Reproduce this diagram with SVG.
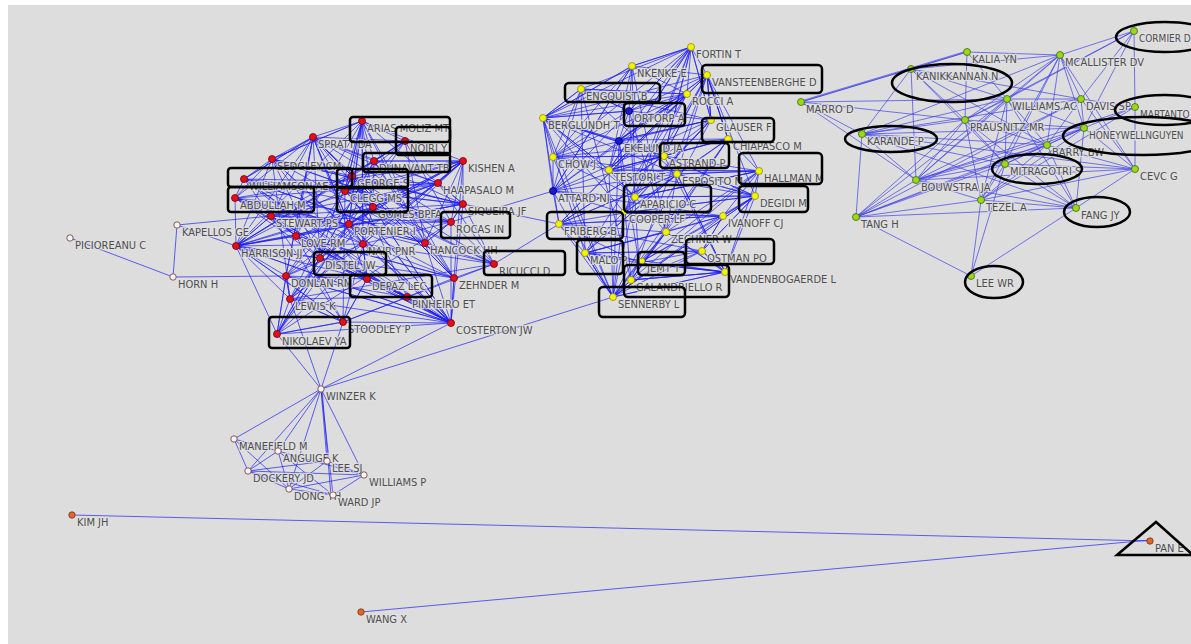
<svg xmlns="http://www.w3.org/2000/svg" width="1191" height="644" viewBox="0 0 1191 644">
<style>
.e{fill:none;stroke:#1c1cf4;stroke-width:1;stroke-opacity:.68}
.er{fill:none;stroke:#4040ea;stroke-width:1;stroke-opacity:.7}
.lbl{font-family:"DejaVu Sans Condensed","Liberation Sans",sans-serif;font-size:11px;fill:#4d4d4d;paint-order:stroke;stroke:#e2e2e2;stroke-width:2.5px;stroke-linejoin:round;stroke-opacity:.8}
.sm{font-size:10px}
.red{fill:#e0101a;stroke:#7a0000;stroke-width:.8}
.yel{fill:#f4f400;stroke:#8a8a00;stroke-width:.8}
.grn{fill:#9ad81a;stroke:#3f6a00;stroke-width:.8}
.blu{fill:#1a1acc;stroke:#000066;stroke-width:.8}
.open{fill:#f4f4f4;stroke:#7a4a4a;stroke-width:.9}
.org{fill:#e0662a;stroke:#7a3010;stroke-width:.8}
.mark{fill:none;stroke:#000;stroke-width:2.5}
</style>
<rect width="1191" height="644" fill="#ffffff"/>
<rect x="8" y="5" width="1183" height="639" fill="#dddddd"/>

<g id="connectors">
  <!-- left cluster -->
  <path class="e" d="M362 121L345 190L405 141L352 176L313 137L373 207L374 161L349 224L463 161L363 244L272 159L425 243L244 179L367 279L235 198L451 222L271 216L438 183L236 246L463 204L296 236L454 278L320 258L451 323L286 276L407 297L290 299L343 322L277 334"/>
  <path class="e" d="M362 121L272 159L235 198L236 246L286 276L277 334L290 299L320 258L296 236L271 216L244 179L313 137L352 176L345 190L373 207L349 224L363 244L367 279L343 322L407 297L454 278L425 243L451 222L463 204L438 183L463 161L374 161L405 141"/>
  <path class="e" d="M362 121L236 246L405 141L286 276L313 137L454 278L374 161L277 334L463 161L290 299L272 159L451 323L244 179L407 297L352 176L494 264L235 198L425 243L345 190L343 322L373 207L320 258L438 183L296 236L463 204L271 216L349 224L451 222L363 244L367 279"/>
  <path class="e" d="M463 161L235 198L438 183L244 179L463 204L272 159L451 222L313 137L425 243L362 121L454 278L352 176L451 323L345 190L494 264L373 207L277 334L349 224L290 299L363 244L286 276L367 279L320 258L407 297L296 236L343 322L236 246L271 216L374 161L405 141"/>
  <path class="e" d="M405 141L277 334L374 161L236 246L352 176L290 299L373 207L286 276L345 190L451 323L349 224L454 278L363 244L235 198L425 243L244 179L451 222L272 159L463 204L313 137L438 183L362 121L463 161L271 216L296 236L407 297L320 258L367 279L343 322L494 264"/>
  <path class="e" d="M244 179L363 244L362 121L349 224L313 137L367 279L272 159L320 258L235 198L407 297L271 216L343 322L236 246L451 323L296 236L454 278L352 176L463 204L345 190L438 183L373 207L463 161L374 161L425 243L405 141L451 222L277 334L286 276L290 299L494 264"/>
  <path class="e" d="M313 137L374 161L438 183L463 204L451 222L425 243L454 278L451 323L407 297L367 279L363 244L349 224L373 207L345 190L352 176L272 159L244 179L235 198L271 216L296 236L236 246L320 258L286 276L290 299L343 322L277 334"/>
  <path class="e" d="M362 121L352 176M362 121L345 190M362 121L373 207M362 121L349 224M362 121L363 244M362 121L320 258M362 121L296 236M362 121L405 141M362 121L374 161M362 121L313 137M362 121L272 159M463 161L438 183M463 161L463 204M463 161L451 222M463 161L425 243M463 161L454 278M463 161L373 207M463 161L349 224M463 161L363 244M463 161L345 190M463 161L352 176M313 137L272 159M313 137L244 179M313 137L235 198M313 137L271 216M313 137L236 246M313 137L296 236M313 137L320 258M313 137L286 276M313 137L345 190M313 137L352 176M313 137L349 224M313 137L405 141"/>
  <path class="e" d="M451 323L236 246M451 323L286 276M451 323L290 299M451 323L320 258M451 323L296 236M451 323L363 244M451 323L367 279M451 323L407 297M451 323L277 334M451 323L343 322M451 323L425 243M451 323L454 278M451 323L451 222M451 323L463 204M451 323L373 207M451 323L349 224M451 323L271 216M236 246L272 159M236 246L271 216M236 246L296 236M236 246L320 258M236 246L290 299M236 246L277 334M236 246L363 244M236 246L349 224M236 246L367 279M236 246L373 207M236 246L345 190M494 264L463 204M494 264L451 222M494 264L425 243M494 264L454 278M494 264L363 244M494 264L438 183"/>
  <path class="e" d="M177 225L236 246M177 225L173 277M70 238L173 277M173 277L286 276M177 225L271 216M463 204L559 224M494 264L559 224M451 222L553 191"/>
  <!-- winzer group -->
  <path class="e" d="M321 389L277 334M321 389L290 299M321 389L343 322M321 389L451 323M321 389L613 297M321 389L234 439M321 389L278 451M321 389L248 471M321 389L327 461M321 389L364 475M321 389L289 489M321 389L333 495M322 389L331 496"/>
  <path class="e" d="M234 439L248 471M234 439L289 489M234 439L278 451M248 471L278 451M248 471L327 461M248 471L364 475M248 471L333 495M248 471L289 489M289 489L364 475M289 489L327 461M289 489L333 495M278 451L333 495M278 451L289 489M278 451L364 475M327 461L364 475M333 495L364 475"/>
  <!-- middle cluster -->
  <path class="e" d="M543 118L691 47L553 157L632 66L553 191L707 75L559 224L687 94L585 253L711 120L613 297L728 139L631 280L759 171L639 263L755 196L702 251L723 216L666 232L677 174L624 213L635 197L609 170L664 156L619 140L629 111L581 89L543 118"/>
  <path class="e" d="M691 47L619 140L687 94L609 170L707 75L635 197L711 120L624 213L728 139L666 232L759 171L725 272L755 196L613 297L723 216L585 253L677 174L559 224L664 156L553 191L629 111L553 157L581 89L553 191L632 66L609 170L691 47"/>
  <path class="e" d="M581 89L687 94L553 157L664 156L559 224L677 174L585 253L666 232L631 280L702 251L613 297L725 272L639 263L723 216L624 213L755 196L635 197L759 171L609 170L728 139L619 140L711 120L629 111L707 75L632 66L691 47L629 111"/>
  <path class="e" d="M543 118L632 66L629 111L687 94L619 140L711 120L664 156L728 139L677 174L759 171L755 196L723 216L702 251L725 272L631 280L613 297L585 253L559 224L553 191L553 157L543 118L619 140L609 170L635 197L666 232L639 263L613 297"/>
  <path class="e" d="M691 47L664 156L707 75L619 140L687 94L553 191L711 120L553 157L728 139L609 170L759 171L635 197L755 196L624 213L723 216L559 224L666 232L585 253L702 251L639 263L725 272L631 280L707 75L543 118L677 174L581 89L585 253"/>
  <path class="e" d="M632 66L687 94L581 89L629 111L543 118L609 170L553 157L635 197L553 191L624 213L559 224L639 263L585 253L613 297L631 280L666 232L725 272L677 174L755 196L664 156L759 171L728 139L707 75L711 120L691 47L581 89"/>
  <path class="e" d="M543 118L664 156L553 157L677 174L553 191L723 216L559 224L702 251L585 253L725 272L613 297L755 196L609 170L687 94L624 213L691 47L635 197L632 66L666 232L629 111L639 263L619 140L631 280L581 89L711 120L707 75L728 139"/>
  <path class="e" d="M543 118L632 66M543 118L581 89M543 118L629 111M543 118L619 141M543 118L664 156M543 118L609 170M543 118L553 191M543 118L635 197M543 118L559 224M543 118L624 212M543 118L585 253M543 118L613 297M543 118L687 94M613 297L553 157M613 297L553 191M613 297L559 224M613 297L585 253M613 297L624 212M613 297L609 170M613 297L619 141M613 297L635 197M613 297L666 232M691 47L632 66M691 47L687 94M691 47L629 111M691 47L707 75M691 47L664 156M691 47L609 170M691 47L711 120"/>
  <path class="e" d="M707 75L711 120M707 75L728 139M707 75L677 174M707 75L664 156M707 75L759 171M707 75L755 196M759 171L677 174M759 171L723 216M755 196L677 174M755 196L723 216M755 196L664 156M755 196L702 251M759 171L635 197M725 272L666 232M725 272L702 251M725 272L639 263M725 272L677 174M725 272L664 156M725 272L631 280M725 272L585 253"/>
  <!-- right cluster -->
  <path class="er" d="M801 102L967 52M801 101L967 51M801 102L1007 99M801 102L911 69M801 102L965 120M801 102L916 180M801 102L862 134M967 52L1060 55M967 52L911 69M967 52L1007 99M967 52L965 120M1060 55L1134 31M1060 55L1007 99M1060 55L1081 99M1060 55L965 120M1060 55L911 69M1060 55L1047 145M1060 55L1005 164M1060 55L981 200M1060 55L1084 128M1060 55L862 134M1060 55L1135 169M1060 55L916 180M1134 31L1007 99M1134 31L1081 99M1134 31L1135 107M1134 31L1084 128M1134 31L965 120"/>
  <path class="er" d="M911 69L1007 99M911 69L965 120M911 69L916 180M911 69L1081 99M911 69L1005 164M911 69L1047 145M911 69L862 134M1007 99L1081 99M1007 99L965 120M1007 99L862 134M1007 99L916 180M1007 99L856 217M1007 99L1005 164M1007 99L1047 145M1007 99L1084 128M1007 99L981 200M1007 99L1076 208M1081 99L1135 107M1081 99L1084 128M1081 99L1047 145M1081 99L1135 169M1081 99L862 134M1081 99L916 180M1081 99L856 217M1135 107L1084 128M1135 107L916 180M1135 107L1135 169M1135 107L981 200"/>
  <path class="er" d="M965 120L862 134M965 120L916 180M965 120L981 200M965 120L1005 164M965 120L1047 145M965 120L1076 208M965 120L1084 128M965 120L856 217M1084 128L1047 145M1084 128L1135 169M1084 128L1005 164M1084 128L1076 208M1084 128L916 180M1084 128L856 217M1084 128L862 134M1084 128L981 200M862 134L916 180M862 134L856 217M862 134L1005 164M862 134L1047 145M862 134L1076 208M862 134L1135 169"/>
  <path class="er" d="M1047 145L1005 164M1047 145L1135 169M1047 145L1076 208M1047 145L916 180M1047 145L981 200M1047 145L856 217M1005 164L1135 169M1005 164L1076 208M1005 164L981 200M1005 164L916 180M1005 164L856 217M1135 169L1076 208M1135 169L916 180M1135 169L981 200M916 180L981 200M916 180L856 217M916 180L1076 208M981 200L856 217M981 200L1076 208M981 200L971 276M1005 164L971 276M1076 208L856 217M1076 208L971 276M856 217L971 276"/>
  <!-- isolated pairs -->
  <path class="e" d="M72 515L1150 541M361 612L1150 540"/>
</g>

<g id="nodes">
  <g id="n-arias"><circle class="red" cx="362" cy="121" r="3.5"/><text class="lbl" x="367" y="132">ARIAS MOLIZ MT</text></g>
  <g id="n-noiri"><circle class="red" cx="405" cy="141" r="3.5"/><text class="lbl" x="410" y="152">NOIRI Y</text></g>
  <g id="n-spratt"><circle class="red" cx="313" cy="137" r="3.5"/><text class="lbl" x="318" y="148">SPRATT DA</text></g>
  <g id="n-dunavant"><circle class="red" cx="374" cy="161" r="3.5"/><text class="lbl" x="379" y="172">DUNAVANT TB</text></g>
  <g id="n-kishen"><circle class="red" cx="463" cy="161" r="3.5"/><text class="lbl" x="468" y="172">KISHEN A</text></g>
  <g id="n-sedgley"><circle class="red" cx="272" cy="159" r="3.5"/><text class="lbl" x="277" y="170">SEDGLEY CM</text></g>
  <g id="n-williamson"><circle class="red" cx="244" cy="179" r="3.5"/><text class="lbl" x="249" y="190">WILLIAMSON AE</text></g>
  <g id="n-george"><circle class="red" cx="352" cy="176" r="3.5"/><text class="lbl" x="357" y="187">GEORGE S</text></g>
  <g id="n-abdullah"><circle class="red" cx="235" cy="198" r="3.5"/><text class="lbl" x="240" y="209">ABDULLAH M</text></g>
  <g id="n-clegg"><circle class="red" cx="345" cy="191" r="3.5"/><text class="lbl" x="350" y="202">CLEGG MS</text></g>
  <g id="n-gomes"><circle class="red" cx="373" cy="207" r="3.5"/><text class="lbl" x="378" y="218">GOMES BPFA</text></g>
  <g id="n-haapasalo"><circle class="red" cx="438" cy="183" r="3.5"/><text class="lbl" x="443" y="194">HAAPASALO M</text></g>
  <g id="n-siqueira"><circle class="red" cx="463" cy="204" r="3.5"/><text class="lbl" x="468" y="215">SIQUEIRA JF</text></g>
  <g id="n-stewart"><circle class="red" cx="271" cy="216" r="3.5"/><text class="lbl" x="276" y="227">STEWART PS</text></g>
  <g id="n-portenier"><circle class="red" cx="349" cy="224" r="3.5"/><text class="lbl" x="354" y="235">PORTENIER I</text></g>
  <g id="n-rocas"><circle class="red" cx="451" cy="222" r="3.5"/><text class="lbl" x="456" y="233">ROCAS IN</text></g>
  <g id="n-harrison"><circle class="red" cx="236" cy="246" r="3.5"/><text class="lbl" x="241" y="257">HARRISON JJ</text></g>
  <g id="n-love"><circle class="red" cx="296" cy="236" r="3.5"/><text class="lbl" x="301" y="247">LOVE RM</text></g>
  <g id="n-nair"><circle class="red" cx="363" cy="244" r="3.5"/><text class="lbl" x="368" y="255">NAIR PNR</text></g>
  <g id="n-hancock"><circle class="red" cx="425" cy="243" r="3.5"/><text class="lbl" x="430" y="254">HANCOCK HH</text></g>
  <g id="n-distel"><circle class="red" cx="320" cy="258" r="3.5"/><text class="lbl" x="325" y="269">DISTEL JW</text></g>
  <g id="n-ricucci"><circle class="red" cx="494" cy="264" r="3.5"/><text class="lbl" x="499" y="275">RICUCCI D</text></g>
  <g id="n-donlan"><circle class="red" cx="286" cy="276" r="3.5"/><text class="lbl" x="291" y="287">DONLAN RM</text></g>
  <g id="n-depaz"><circle class="red" cx="367" cy="279" r="3.5"/><text class="lbl" x="372" y="290">DEPAZ LEC</text></g>
  <g id="n-zehnder"><circle class="red" cx="454" cy="278" r="3.5"/><text class="lbl" x="459" y="289">ZEHNDER M</text></g>
  <g id="n-lewis"><circle class="red" cx="290" cy="299" r="3.5"/><text class="lbl" x="295" y="310">LEWIS K</text></g>
  <g id="n-pinheiro"><circle class="red" cx="407" cy="297" r="3.5"/><text class="lbl" x="412" y="308">PINHEIRO ET</text></g>
  <g id="n-stoodley"><circle class="red" cx="343" cy="322" r="3.5"/><text class="lbl" x="348" y="333">STOODLEY P</text></g>
  <g id="n-costerton"><circle class="red" cx="451" cy="323" r="3.5"/><text class="lbl" x="456" y="334">COSTERTON JW</text></g>
  <g id="n-nikolaev"><circle class="red" cx="277" cy="334" r="3.5"/><text class="lbl" x="282" y="345">NIKOLAEV YA</text></g>

  <g id="n-kapellos"><circle class="open" cx="177" cy="225" r="3.2"/><text class="lbl" x="182" y="236">KAPELLOS GE</text></g>
  <g id="n-picioreanu"><circle class="open" cx="70" cy="238" r="3.2"/><text class="lbl" x="75" y="249">PICIOREANU C</text></g>
  <g id="n-horn"><circle class="open" cx="173" cy="277" r="3.2"/><text class="lbl" x="178" y="288">HORN H</text></g>
  <g id="n-winzer"><circle class="open" cx="321" cy="389" r="3.2"/><text class="lbl" x="326" y="400">WINZER K</text></g>
  <g id="n-manefield"><circle class="open" cx="234" cy="439" r="3.2"/><text class="lbl" x="239" y="450">MANEFIELD M</text></g>
  <g id="n-anguige"><circle class="open" cx="278" cy="451" r="3.2"/><text class="lbl" x="283" y="462">ANGUIGE K</text></g>
  <g id="n-dockery"><circle class="open" cx="248" cy="471" r="3.2"/><text class="lbl" x="253" y="482">DOCKERY JD</text></g>
  <g id="n-leesj"><circle class="open" cx="327" cy="461" r="3.2"/><text class="lbl" x="332" y="472">LEE SJ</text></g>
  <g id="n-williamsp"><circle class="open" cx="364" cy="475" r="3.2"/><text class="lbl" x="369" y="486">WILLIAMS P</text></g>
  <g id="n-dong"><circle class="open" cx="289" cy="489" r="3.2"/><text class="lbl" x="294" y="500">DONG YH</text></g>
  <g id="n-ward"><circle class="open" cx="333" cy="495" r="3.2"/><text class="lbl" x="338" y="506">WARD JP</text></g>

  <g id="n-fortin"><circle class="yel" cx="691" cy="47" r="3.5"/><text class="lbl" x="696" y="58">FORTIN T</text></g>
  <g id="n-nkenke"><circle class="yel" cx="632" cy="66" r="3.5"/><text class="lbl" x="637" y="77">NKENKE E</text></g>
  <g id="n-vansteenberghe"><circle class="yel" cx="707" cy="75" r="3.5"/><text class="lbl" x="712" y="86">VANSTEENBERGHE D</text></g>
  <g id="n-engquist"><circle class="yel" cx="581" cy="89" r="3.5"/><text class="lbl" x="586" y="100">ENGQUIST B</text></g>
  <g id="n-rocci"><circle class="yel" cx="687" cy="94" r="3.5"/><text class="lbl" x="692" y="105">ROCCI A</text></g>
  <g id="n-ortorp"><circle class="blu" cx="629" cy="111" r="3.5"/><text class="lbl" x="634" y="122">ORTORP A</text></g>
  <g id="n-berglundh"><circle class="yel" cx="543" cy="118" r="3.5"/><text class="lbl" x="548" y="129">BERGLUNDH T</text></g>
  <g id="n-glauser"><circle class="yel" cx="711" cy="120" r="3.5"/><text class="lbl" x="716" y="131">GLAUSER F</text></g>
  <g id="n-chiapasco"><circle class="yel" cx="728" cy="139" r="3.5"/><text class="lbl" x="733" y="150">CHIAPASCO M</text></g>
  <g id="n-ekelund"><circle class="blu" cx="619" cy="141" r="3.5"/><text class="lbl" x="624" y="152">EKELUND JA</text></g>
  <g id="n-astrand"><circle class="yel" cx="664" cy="156" r="3.5"/><text class="lbl" x="669" y="167">ASTRAND P</text></g>
  <g id="n-chow"><circle class="yel" cx="553" cy="157" r="3.5"/><text class="lbl" x="558" y="168">CHOW J</text></g>
  <g id="n-hallman"><circle class="yel" cx="759" cy="171" r="3.5"/><text class="lbl" x="764" y="182">HALLMAN M</text></g>
  <g id="n-testori"><circle class="yel" cx="609" cy="170" r="3.5"/><text class="lbl" x="614" y="181">TESTORI T</text></g>
  <g id="n-esposito"><circle class="yel" cx="677" cy="174" r="3.5"/><text class="lbl" x="682" y="185">ESPOSITO M</text></g>
  <g id="n-attard"><circle class="blu" cx="553" cy="191" r="3.5"/><text class="lbl" x="558" y="202">ATTARD NJ</text></g>
  <g id="n-degidi"><circle class="yel" cx="755" cy="196" r="3.5"/><text class="lbl" x="760" y="207">DEGIDI M</text></g>
  <g id="n-aparicio"><circle class="yel" cx="635" cy="197" r="3.5"/><text class="lbl" x="640" y="208">APARICIO C</text></g>
  <g id="n-friberg"><circle class="yel" cx="559" cy="224" r="3.5"/><text class="lbl" x="564" y="235">FRIBERG B</text></g>
  <g id="n-cooper"><circle class="yel" cx="624" cy="212" r="3"/><text class="lbl" x="629" y="223">COOPER LF</text></g>
  <g id="n-ivanoff"><circle class="yel" cx="723" cy="216" r="3.5"/><text class="lbl" x="728" y="227">IVANOFF CJ</text></g>
  <g id="n-zechner"><circle class="yel" cx="666" cy="232" r="3.5"/><text class="lbl" x="671" y="243">ZECHNER W</text></g>
  <g id="n-ostman"><circle class="yel" cx="702" cy="251" r="3.5"/><text class="lbl" x="707" y="262">OSTMAN PO</text></g>
  <g id="n-malo"><circle class="yel" cx="585" cy="253" r="3.5"/><text class="lbl" x="590" y="264">MALO P</text></g>
  <g id="n-jemt"><circle class="yel" cx="642" cy="261" r="3"/><text class="lbl" x="647" y="272">JEMT T</text></g>
  <g id="n-vandenbogaerde"><circle class="yel" cx="725" cy="272" r="3.5"/><text class="lbl" x="730" y="283">VANDENBOGAERDE L</text></g>
  <g id="n-galandriello"><circle class="yel" cx="631" cy="280" r="3.5"/><text class="lbl" x="636" y="291">GALANDRIELLO R</text></g>
  <g id="n-sennerby"><circle class="yel" cx="613" cy="297" r="3.5"/><text class="lbl" x="618" y="308">SENNERBY L</text></g>

  <g id="n-cormier"><circle class="grn" cx="1134" cy="31" r="3.5"/><text class="lbl sm" x="1139" y="42">CORMIER D</text></g>
  <g id="n-kalia"><circle class="grn" cx="967" cy="52" r="3.5"/><text class="lbl" x="972" y="63">KALIA YN</text></g>
  <g id="n-mcallister"><circle class="grn" cx="1060" cy="55" r="3.5"/><text class="lbl" x="1065" y="66">MCALLISTER DV</text></g>
  <g id="n-kanikkannan"><circle class="grn" cx="911" cy="69" r="3.5"/><text class="lbl" x="916" y="80">KANIKKANNAN N</text></g>
  <g id="n-marro"><circle class="grn" cx="801" cy="102" r="3.5"/><text class="lbl" x="806" y="113">MARRO D</text></g>
  <g id="n-williamsac"><circle class="grn" cx="1007" cy="99" r="3.5"/><text class="lbl" x="1012" y="110">WILLIAMS AC</text></g>
  <g id="n-davis"><circle class="grn" cx="1081" cy="99" r="3.5"/><text class="lbl" x="1086" y="110">DAVIS SP</text></g>
  <g id="n-martanto"><circle class="grn" cx="1135" cy="107" r="3.5"/><text class="lbl sm" x="1140" y="118">MARTANTO</text></g>
  <g id="n-prausnitz"><circle class="grn" cx="965" cy="120" r="3.5"/><text class="lbl" x="970" y="131">PRAUSNITZ MR</text></g>
  <g id="n-honeywell"><circle class="grn" cx="1084" cy="128" r="3.5"/><text class="lbl sm" x="1089" y="139">HONEYWELLNGUYEN</text></g>
  <g id="n-karande"><circle class="grn" cx="862" cy="134" r="3.5"/><text class="lbl" x="867" y="145">KARANDE P</text></g>
  <g id="n-barry"><circle class="grn" cx="1047" cy="145" r="3.5"/><text class="lbl" x="1052" y="156">BARRY BW</text></g>
  <g id="n-mitragotri"><circle class="grn" cx="1005" cy="164" r="3.5"/><text class="lbl" x="1010" y="175">MITRAGOTRI S</text></g>
  <g id="n-cevc"><circle class="grn" cx="1135" cy="169" r="3.5"/><text class="lbl" x="1140" y="180">CEVC G</text></g>
  <g id="n-bouwstra"><circle class="grn" cx="916" cy="180" r="3.5"/><text class="lbl" x="921" y="191">BOUWSTRA JA</text></g>
  <g id="n-tezel"><circle class="grn" cx="981" cy="200" r="3.5"/><text class="lbl" x="986" y="211">TEZEL A</text></g>
  <g id="n-fang"><circle class="grn" cx="1076" cy="208" r="3.5"/><text class="lbl" x="1081" y="219">FANG JY</text></g>
  <g id="n-tang"><circle class="grn" cx="856" cy="217" r="3.5"/><text class="lbl" x="861" y="228">TANG H</text></g>
  <g id="n-leewr"><circle class="grn" cx="971" cy="276" r="3.5"/><text class="lbl" x="976" y="287">LEE WR</text></g>

  <g id="n-kimjh"><circle class="org" cx="72" cy="515" r="3.2"/><text class="lbl" x="77" y="526">KIM JH</text></g>
  <g id="n-wangx"><circle class="org" cx="361" cy="612" r="3.2"/><text class="lbl" x="366" y="623">WANG X</text></g>
  <g id="n-pane"><circle class="org" cx="1150" cy="541" r="3.2"/><text class="lbl" x="1155" y="552">PAN E</text></g>
</g>

<g id="highlights">
  <rect class="mark" x="350" y="117" width="100" height="25" rx="3"/>
  <rect class="mark" x="396" y="127" width="54" height="28" rx="3"/>
  <rect class="mark" x="363" y="153" width="87" height="19" rx="3"/>
  <rect class="mark" x="228" y="168" width="124" height="19" rx="3"/>
  <rect class="mark" x="337" y="169" width="71" height="19" rx="3"/>
  <rect class="mark" x="228" y="187" width="86" height="25" rx="3"/>
  <rect class="mark" x="337" y="187" width="71" height="25" rx="3"/>
  <rect class="mark" x="441" y="212" width="69" height="26" rx="3"/>
  <rect class="mark" x="314" y="252" width="72" height="23" rx="3"/>
  <rect class="mark" x="484" y="251" width="81" height="24" rx="3"/>
  <rect class="mark" x="350" y="275" width="82" height="22" rx="3"/>
  <rect class="mark" x="269" y="317" width="81" height="31" rx="3"/>
  <rect class="mark" x="702" y="65" width="120" height="28" rx="4"/>
  <rect class="mark" x="565" y="83" width="95" height="19" rx="4"/>
  <rect class="mark" x="624" y="103" width="61" height="23" rx="4"/>
  <rect class="mark" x="702" y="118" width="72" height="24" rx="4"/>
  <rect class="mark" x="660" y="143" width="69" height="25" rx="4"/>
  <rect class="mark" x="739" y="153" width="83" height="31" rx="4"/>
  <rect class="mark" x="624" y="185" width="87" height="27" rx="4"/>
  <rect class="mark" x="739" y="186" width="69" height="26" rx="4"/>
  <rect class="mark" x="547" y="212" width="76" height="27" rx="4"/>
  <rect class="mark" x="686" y="239" width="88" height="25" rx="4"/>
  <rect class="mark" x="577" y="240" width="46" height="34" rx="4"/>
  <rect class="mark" x="638" y="252" width="47" height="23" rx="4"/>
  <rect class="mark" x="624" y="265" width="105" height="32" rx="4"/>
  <rect class="mark" x="599" y="287" width="86" height="30" rx="4"/>
  <ellipse class="mark" cx="1165" cy="37" rx="49" ry="15"/>
  <ellipse class="mark" cx="952" cy="83" rx="60" ry="19"/>
  <ellipse class="mark" cx="1165" cy="110" rx="50" ry="15"/>
  <ellipse class="mark" cx="1143" cy="136" rx="80" ry="19"/>
  <ellipse class="mark" cx="891" cy="139" rx="46" ry="13"/>
  <ellipse class="mark" cx="1037" cy="169" rx="45" ry="15"/>
  <ellipse class="mark" cx="1097" cy="212" rx="33" ry="15"/>
  <ellipse class="mark" cx="994" cy="282" rx="29" ry="16"/>
  <polygon class="mark" points="1117,555 1156,522 1193,555"/>
</g>
</svg>
